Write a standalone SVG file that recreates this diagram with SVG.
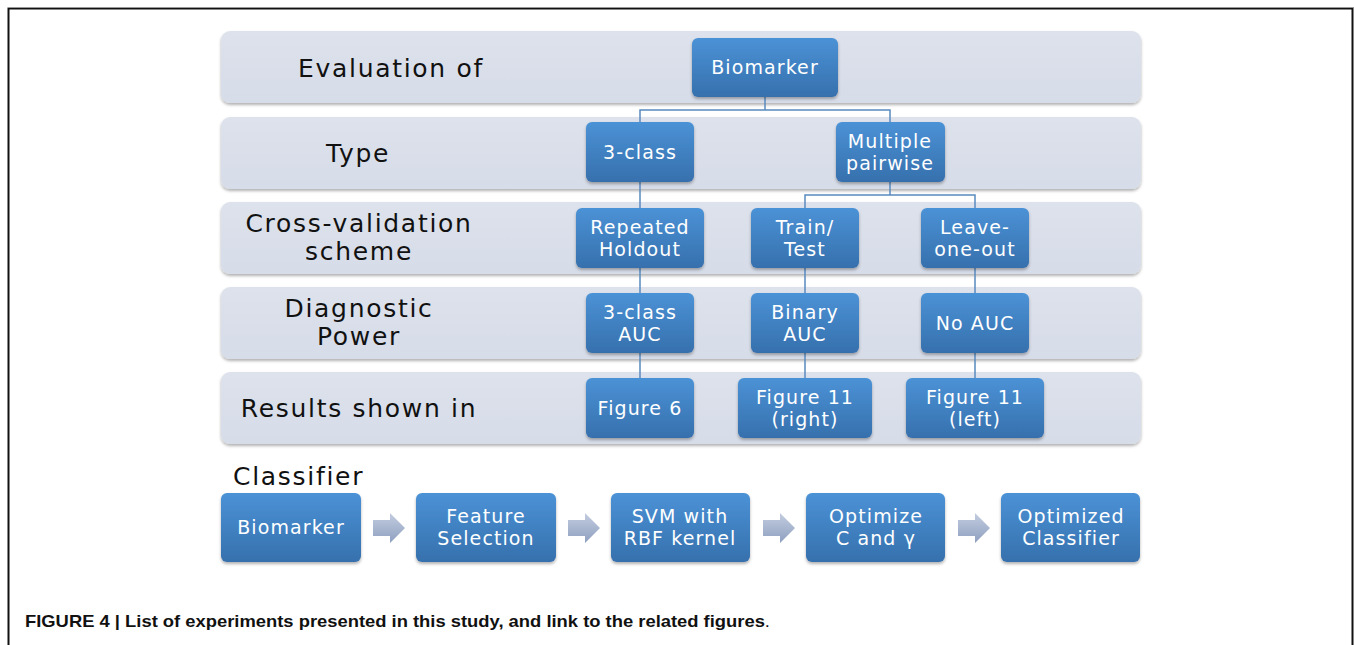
<svg xmlns="http://www.w3.org/2000/svg" width="1354" height="645" viewBox="0 0 1354 645">
<defs>
<linearGradient id="gNode" x1="0" y1="0" x2="0" y2="1">
<stop offset="0" stop-color="#4b92d6"/>
<stop offset="1" stop-color="#3670ad"/>
</linearGradient>
<linearGradient id="gBand" x1="0" y1="0" x2="0" y2="1">
<stop offset="0" stop-color="#dde2ec"/>
<stop offset="1" stop-color="#d6dce8"/>
</linearGradient>
<linearGradient id="gArrow" x1="0" y1="0" x2="0" y2="1">
<stop offset="0" stop-color="#c3cde0"/>
<stop offset="1" stop-color="#8e9fbf"/>
</linearGradient>
<filter id="sh" x="-10%" y="-10%" width="120%" height="130%">
<feDropShadow dx="0" dy="2" stdDeviation="1.5" flood-color="#000" flood-opacity="0.3"/>
</filter>
<g id="arrow"><path d="M0,-8 H17 V-15 L32,0 L17,15 V8 H0 Z" fill="url(#gArrow)"/></g>
</defs>
<style>
.band{fill:url(#gBand);filter:url(#sh)}
.node{fill:url(#gNode);filter:url(#sh)}
.lbl{font-family:"DejaVu Sans",sans-serif;font-size:25px;fill:#111;text-anchor:middle;letter-spacing:1.7px}
.nt{font-family:"DejaVu Sans",sans-serif;font-size:19px;fill:#fff;text-anchor:middle;letter-spacing:1.1px}
.conn{fill:none;stroke:#5a8ac0;stroke-width:1.5}
.cap{font-family:"Liberation Sans",Arial,sans-serif;font-size:17px;font-weight:bold;fill:#111}
</style>
<rect width="1354" height="645" fill="#fff"/>
<path d="M8.5,645 V8.5 H1353" fill="none" stroke="#111" stroke-width="2"/>
<line x1="8" y1="7.5" x2="1354" y2="7.5" stroke="#999" stroke-width="1"/>
<line x1="1352.5" y1="8" x2="1352.5" y2="645" stroke="#111" stroke-width="2"/>

<g id="bands">
<rect class="band" x="221" y="31" width="920" height="72" rx="9"/>
<rect class="band" x="221" y="117" width="920" height="72" rx="9"/>
<rect class="band" x="221" y="202" width="920" height="72" rx="9"/>
<rect class="band" x="221" y="287" width="920" height="72" rx="9"/>
<rect class="band" x="221" y="372" width="920" height="72" rx="9"/>
</g>
<g id="row-labels">
<text class="lbl" x="298" y="77" style="text-anchor:start">Evaluation of</text>
<text class="lbl" x="358" y="162">Type</text>
<text class="lbl" x="359" y="232">Cross-validation</text>
<text class="lbl" x="359" y="260">scheme</text>
<text class="lbl" x="359" y="317">Diagnostic</text>
<text class="lbl" x="359" y="345">Power</text>
<text class="lbl" x="359" y="417">Results shown in</text>
</g>

<g id="connectors">
<path class="conn" d="M765,97 V110 M640,122 V110 H890 V122"/>
<path class="conn" d="M890,182 V195 M805,208 V195 H975 V208"/>
<path class="conn" d="M640,182 V208 M640,268 V293 M640,353 V378"/>
<path class="conn" d="M805,268 V293 M805,353 V378"/>
<path class="conn" d="M975,268 V293 M975,353 V378"/>
</g>

<g id="n-biomarker"><rect class="node" x="692" y="38" width="146" height="59" rx="6"/><text class="nt" x="765" y="74">Biomarker</text></g>
<g id="n-3class"><rect class="node" x="586" y="122" width="108" height="60" rx="6"/><text class="nt" x="640" y="159">3-class</text></g>
<g id="n-multiple"><rect class="node" x="836" y="122" width="109" height="60" rx="6"/><text class="nt" x="890" y="148">Multiple</text><text class="nt" x="890" y="170">pairwise</text></g>
<g id="n-repeated"><rect class="node" x="576" y="208" width="128" height="60" rx="6"/><text class="nt" x="640" y="234">Repeated</text><text class="nt" x="640" y="256">Holdout</text></g>
<g id="n-traintest"><rect class="node" x="751" y="208" width="108" height="60" rx="6"/><text class="nt" x="805" y="234">Train/</text><text class="nt" x="805" y="256">Test</text></g>
<g id="n-loo"><rect class="node" x="921" y="208" width="108" height="60" rx="6"/><text class="nt" x="975" y="234">Leave-</text><text class="nt" x="975" y="256">one-out</text></g>
<g id="n-3auc"><rect class="node" x="586" y="293" width="108" height="60" rx="6"/><text class="nt" x="640" y="319">3-class</text><text class="nt" x="640" y="341">AUC</text></g>
<g id="n-binauc"><rect class="node" x="751" y="293" width="108" height="60" rx="6"/><text class="nt" x="805" y="319">Binary</text><text class="nt" x="805" y="341">AUC</text></g>
<g id="n-noauc"><rect class="node" x="921" y="293" width="108" height="60" rx="6"/><text class="nt" x="975" y="330">No AUC</text></g>
<g id="n-fig6"><rect class="node" x="586" y="378" width="108" height="60" rx="6"/><text class="nt" x="640" y="415">Figure 6</text></g>
<g id="n-fig11r"><rect class="node" x="738" y="378" width="134" height="60" rx="6"/><text class="nt" x="805" y="404">Figure 11</text><text class="nt" x="805" y="426">(right)</text></g>
<g id="n-fig11l"><rect class="node" x="906" y="378" width="138" height="60" rx="6"/><text class="nt" x="975" y="404">Figure 11</text><text class="nt" x="975" y="426">(left)</text></g>

<text class="lbl" x="233" y="485" style="text-anchor:start">Classifier</text>

<g id="c-biomarker"><rect class="node" x="221" y="493" width="140" height="69" rx="6"/><text class="nt" x="291" y="534">Biomarker</text></g>
<g id="c-feature"><rect class="node" x="416" y="493" width="140" height="69" rx="6"/><text class="nt" x="486" y="523">Feature</text><text class="nt" x="486" y="545">Selection</text></g>
<g id="c-svm"><rect class="node" x="611" y="493" width="139" height="69" rx="6"/><text class="nt" x="680" y="523">SVM with</text><text class="nt" x="680" y="545">RBF kernel</text></g>
<g id="c-optimize"><rect class="node" x="806" y="493" width="139" height="69" rx="6"/><text class="nt" x="876" y="523">Optimize</text><text class="nt" x="876" y="545">C and γ</text></g>
<g id="c-optimized"><rect class="node" x="1001" y="493" width="139" height="69" rx="6"/><text class="nt" x="1071" y="523">Optimized</text><text class="nt" x="1071" y="545">Classifier</text></g>

<g id="flow-arrows">
<use href="#arrow" x="373" y="528"/>
<use href="#arrow" x="568" y="528"/>
<use href="#arrow" x="763" y="528"/>
<use href="#arrow" x="958" y="528"/>
</g>

<text class="cap" x="25" y="627" textLength="745" lengthAdjust="spacingAndGlyphs">FIGURE 4 | List of experiments presented in this study, and link to the related figures<tspan font-weight="normal">.</tspan></text>
</svg>
